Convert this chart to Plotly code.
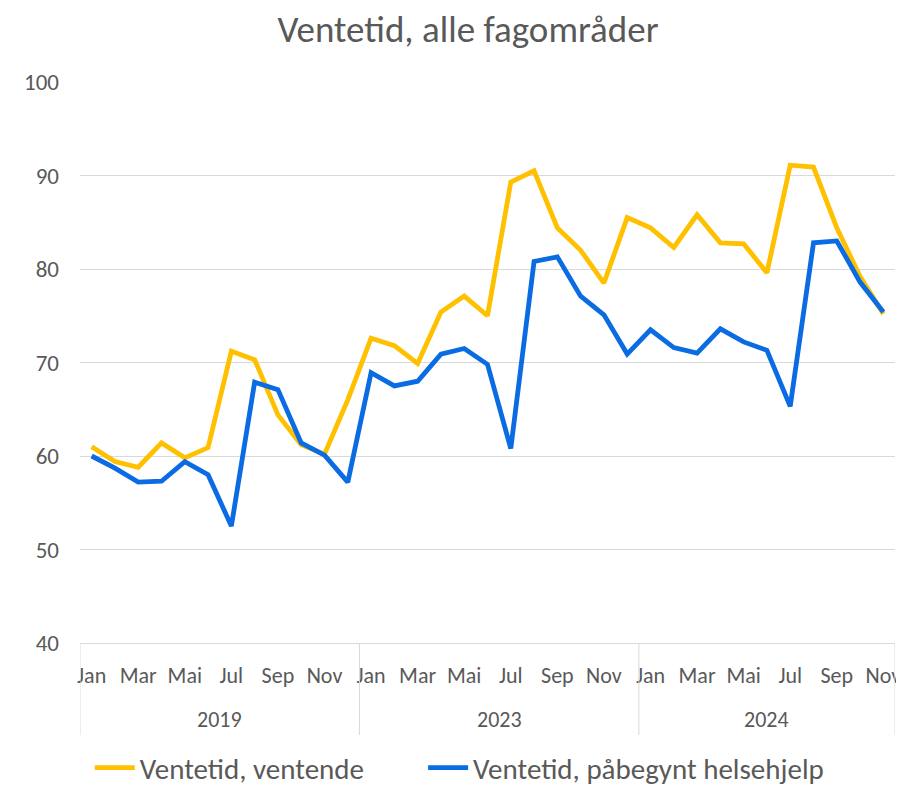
import plotly.graph_objects as go

years = ["2019", "2023", "2024"]
months_per_year = [12, 12, 11]
month_names = ["Jan", "Feb", "Mar", "Apr", "Mai", "Jun", "Jul", "Aug", "Sep", "Okt", "Nov", "Des"]

ventende = [
    61.0, 59.4, 58.8, 61.4, 59.8, 60.9, 71.2, 70.3, 64.4, 61.2, 60.2, 66.0,
    72.6, 71.8, 69.9, 75.4, 77.1, 75.0, 89.3, 90.5, 84.4, 82.0, 78.5, 85.5,
    84.4, 82.3, 85.8, 82.8, 82.7, 79.6, 91.1, 90.9, 84.4, 79.2, 75.2,
]
pabegynt = [
    60.0, 58.7, 57.2, 57.3, 59.4, 58.0, 52.5, 67.9, 67.1, 61.4, 60.1, 57.2,
    68.9, 67.5, 68.0, 70.9, 71.5, 69.8, 60.8, 80.8, 81.3, 77.1, 75.1, 70.9,
    73.5, 71.6, 71.0, 73.6, 72.2, 71.3, 65.3, 82.8, 83.0, 78.6, 75.4,
]

series_names = ["Ventetid, ventende", "Ventetid, påbegynt helsehjelp"]
title_text = "Ventetid, alle fagområder"
y_ticks = [40, 50, 60, 70, 80, 90, 100]

FONT = "Carlito, Calibri, 'Liberation Sans Narrow', 'Open Sans', sans-serif"
GREY = "#595959"

# build x index and labels
x_idx = []
tickvals, ticktext = [], []
i = 0
for y, n in zip(years, months_per_year):
    for m in range(n):
        x_idx.append(i)
        if m % 2 == 0:
            tickvals.append(i)
            ticktext.append(month_names[m])
        i += 1

fig = go.Figure()
fig.add_trace(go.Scatter(x=x_idx, y=ventende, mode="lines", name=series_names[0],
                         line=dict(color="#FFC000", width=4.8), legend="legend"))
fig.add_trace(go.Scatter(x=x_idx, y=pabegynt, mode="lines", name=series_names[1],
                         line=dict(color="#0A6BE3", width=4.8), legend="legend2"))

# year group dividers and labels
start = 0
bounds = [-0.5]
for y, n in zip(years, months_per_year):
    end = start + n
    fig.add_annotation(x=(start + end - 1) / 2, y=-0.137, xref="x", yref="paper",
                       text=y, showarrow=False, yanchor="middle",
                       font=dict(family=FONT, size=22, color=GREY))
    bounds.append(end - 0.5)
    start = end
for b in bounds:
    fig.add_shape(type="line", x0=b, x1=b, y0=0, y1=-0.164, xref="x", yref="paper",
                  line=dict(color="#D9D9D9", width=1))

W, H = 896, 780  # page body has an 8px margin
legend_common = dict(orientation="h", xanchor="left", y=-0.2225, yanchor="middle",
                     font=dict(family=FONT, size=29, color=GREY), itemwidth=40,
                     bgcolor="rgba(0,0,0,0)")
fig.update_layout(
    width=W, height=H,
    margin=dict(l=72, r=9, t=74, b=145, autoexpand=False),
    paper_bgcolor="white", plot_bgcolor="white",
    title=dict(text=title_text, x=(468 - 8) / W, xref="container", xanchor="center",
               y=1 - 21 / H, yref="container", yanchor="middle",
               font=dict(family=FONT, size=37, color=GREY)),
    xaxis=dict(range=[-0.5, len(x_idx) - 0.5], tickvals=tickvals, ticktext=ticktext,
               showgrid=False, zeroline=False, showline=True, linecolor="#D9D9D9",
               linewidth=1, ticks="", ticklabelstandoff=13, automargin=False,
               tickfont=dict(family=FONT, size=22, color=GREY), fixedrange=True),
    yaxis=dict(range=[40, 100], tickvals=y_ticks, showgrid=True, gridcolor="#D9D9D9",
               gridwidth=1.3, zeroline=False, showline=False, ticks="",
               ticklabelstandoff=20, automargin=False,
               tickfont=dict(family=FONT, size=23, color=GREY), fixedrange=True),
    legend=dict(x=0.012, **legend_common),
    legend2=dict(x=0.421, **legend_common),
    showlegend=True,
)

fig.write_html("out.html")
